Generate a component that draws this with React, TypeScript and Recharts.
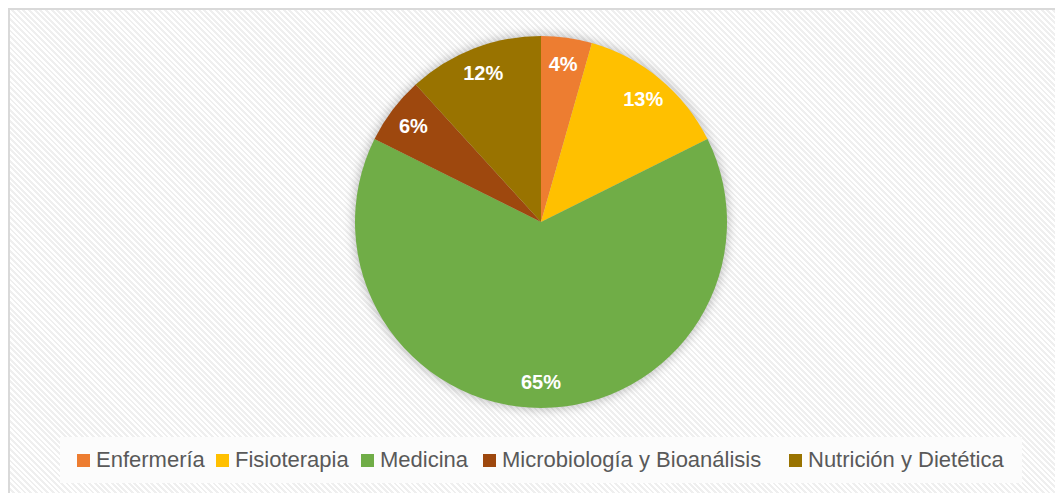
import React from 'react';
import { PieChart, Pie, Cell, Legend } from 'recharts';

const categories = ['Enfermería', 'Fisioterapia', 'Medicina', 'Microbiología y Bioanálisis', 'Nutrición y Dietética'];
const counts = [3, 9, 44, 4, 8];
const colors = ['#ED7D31', '#FFC000', '#70AD47', '#9E480E', '#997300'];
const legendItemWidths = [139, 145, 122, 306, 220];

const data = categories.map((name, i) => ({ name, value: counts[i] }));

const RAD = Math.PI / 180;

const renderLabel = (props: any) => {
  const { cx, cy, midAngle, outerRadius, percent } = props;
  const r = outerRadius * 0.86;
  const x = cx + r * Math.cos(-midAngle * RAD);
  const y = cy + r * Math.sin(-midAngle * RAD);
  return (
    <text
      x={x}
      y={y}
      fill="#ffffff"
      textAnchor="middle"
      dominantBaseline="central"
      fontFamily="'Liberation Sans', Arial, sans-serif"
      fontWeight="bold"
      fontSize={20}
    >
      {`${Math.round(percent * 100)}%`}
    </text>
  );
};

const renderLegend = (props: any) => {
  const { payload } = props;
  return (
    <div
      style={{
        width: 962,
        height: 46,
        background: '#fcfcfc',
        display: 'flex',
        alignItems: 'center',
        boxSizing: 'border-box',
        paddingLeft: 17,
      }}
    >
      {payload
        .filter((e: any) => e.type !== 'none')
        .map((entry: any, i: number) => (
          <div key={i} style={{ display: 'flex', alignItems: 'center', width: legendItemWidths[i], flex: 'none' }}>
            <span style={{ display: 'inline-block', width: 13, height: 13, background: entry.color, marginRight: 6, flex: 'none' }} />
            <span
              style={{
                fontFamily: "'Liberation Sans', Arial, sans-serif",
                fontSize: 22,
                color: '#595959',
                whiteSpace: 'nowrap',
              }}
            >
              {entry.value}
            </span>
          </div>
        ))}
    </div>
  );
};

export default function App() {
  return (
    <div
      style={{
        width: 1055,
        height: 485,
        boxSizing: 'border-box',
        borderTop: '2px solid #d9d9d9',
        borderLeft: '2px solid #d9d9d9',
        background: 'repeating-linear-gradient(45deg, #ffffff 0px, #ffffff 2px, #efefef 2px, #efefef 4px)',
        position: 'relative',
      }}
    >
      <PieChart
        width={1053}
        height={483}
        margin={{ top: 0, right: 0, bottom: 0, left: 0 }}
        style={{ position: 'absolute', left: 0, top: 0 }}
      >
        <defs>
          <filter id="pieGlow" filterUnits="userSpaceOnUse" x="0" y="0" width="1053" height="483">
            <feGaussianBlur in="SourceGraphic" stdDeviation="5" />
          </filter>
        </defs>
        <Pie
          data={data}
          dataKey="value"
          nameKey="name"
          cx={531}
          cy={212}
          outerRadius={188}
          startAngle={90}
          endAngle={-270}
          stroke="none"
          legendType="none"
          isAnimationActive={false}
        >
          {data.map((d) => (
            <Cell key={d.name} fill="#000000" fillOpacity={0.22} filter="url(#pieGlow)" />
          ))}
        </Pie>
        <Pie
          data={data}
          dataKey="value"
          nameKey="name"
          cx={531}
          cy={212}
          outerRadius={186}
          startAngle={90}
          endAngle={-270}
          stroke="none"
          label={renderLabel}
          labelLine={false}
          isAnimationActive={false}
        >
          {data.map((d, i) => (
            <Cell key={d.name} fill={colors[i]} />
          ))}
        </Pie>
        <Legend
          content={renderLegend}
          wrapperStyle={{ left: 50, top: 427, width: 962, height: 46 }}
        />
      </PieChart>
    </div>
  );
}
